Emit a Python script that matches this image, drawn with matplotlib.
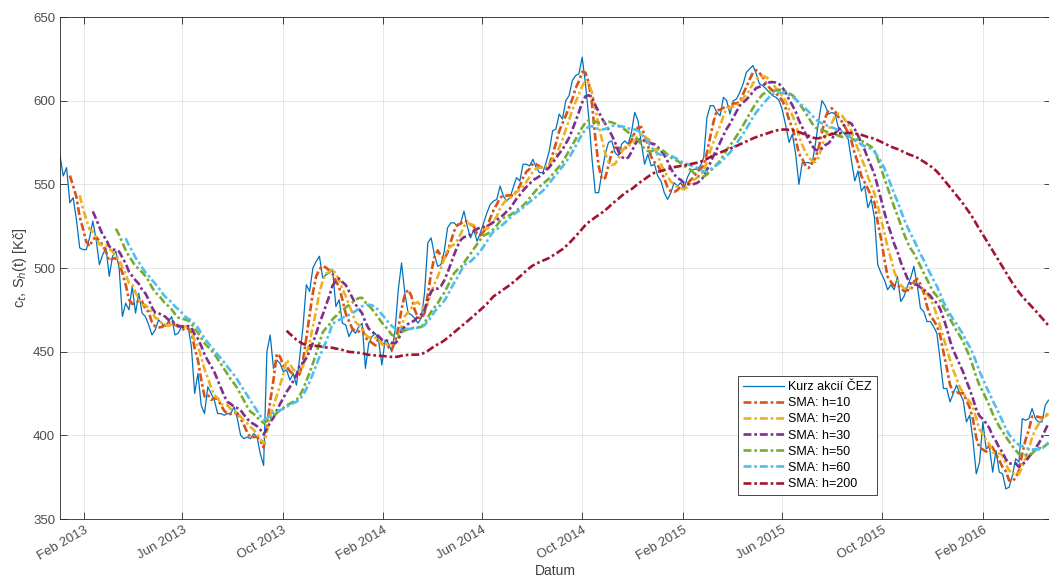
import matplotlib
matplotlib.use('Agg')
import matplotlib.pyplot as plt
import matplotlib.dates as mdates
import numpy as np
import pandas as pd

plt.rcParams['font.family'] = ['Liberation Sans', 'DejaVu Sans']

# Kurz akcii CEZ, every 4 calendar days
start_date = '2013-01-03'
step = '4D'
price = [
    567, 555, 560, 539, 542, 529, 512, 511, 511, 518,
    528, 517, 502, 508, 512, 495, 507, 510, 500, 471,
    479, 475, 489, 473, 485, 473, 471, 466, 460, 463,
    469, 467, 465, 468, 471, 460, 461, 465, 465, 465,
    453, 425, 437, 418, 413, 429, 425, 421, 413, 413,
    412, 413, 413, 417, 410, 400, 398, 399, 398, 401,
    399, 389, 382, 450, 460, 440, 445, 443, 438, 439,
    433, 437, 430, 447, 465, 490, 486, 500, 504, 507,
    494, 496, 497, 499, 477, 481, 467, 466, 459, 463,
    461, 465, 467, 440, 455, 459, 461, 457, 442, 457,
    455, 450, 462, 487, 503, 485, 473, 472, 470, 467,
    470, 485, 515, 518, 508, 501, 502, 510, 524, 527,
    527, 525, 527, 534, 525, 518, 523, 516, 521, 527,
    533, 538, 540, 541, 549, 543, 540, 542, 548, 554,
    552, 562, 562, 561, 565, 560, 557, 557, 563, 570,
    582, 583, 592, 589, 600, 603, 612, 615, 616, 626,
    610, 590, 565, 545, 545, 557, 568, 575, 576, 569,
    567, 574, 576, 574, 581, 593, 588, 575, 562, 568,
    561, 562, 555, 552, 545, 541, 545, 551, 549, 551,
    547, 554, 558, 559, 559, 561, 566, 590, 597, 597,
    593, 591, 602, 600, 592, 600, 601, 605, 610, 617,
    619, 621, 616, 610, 609, 607, 605, 603, 602, 600,
    594, 585, 575, 580, 568, 550, 563, 563, 563, 562,
    574, 588, 600, 597, 592, 593, 592, 584, 582, 580,
    577, 564, 552, 558, 546, 549, 536, 541, 530, 502,
    497, 493, 487, 490, 487, 495, 480, 483, 489, 494,
    501, 490, 476, 474, 468, 468, 465, 461, 445, 428,
    428, 420, 425, 430, 425, 421, 408, 412, 397, 377,
    384, 408, 392, 393, 378, 391, 378, 377, 368, 369,
    376, 386, 384, 410, 409, 410, 416, 410, 408, 408,
    418, 421,
]

# SMA window lengths (trading days)
sma_h = [10, 20, 30, 50, 60, 200]
sma_colors = ['#D95319', '#EDB120', '#7E2F8E', '#77AC30', '#4DBEEE', '#A2142F']
price_color = '#0072BD'

dates = pd.date_range(start_date, periods=len(price), freq=step)
s = pd.Series(price, index=dates, dtype=float)

fig = plt.figure(figsize=(10.49, 5.79), dpi=100)
ax = fig.add_axes([60 / 1049, 60 / 579, 991 / 1049, 502 / 579])

ax.plot(dates, s.values, color=price_color, lw=0.9, label='Kurz akcií ČEZ')

for h, c in zip(sma_h, sma_colors):
    win_days = int(round(h * 7 / 5))
    n_min = int(np.ceil(win_days / 4))
    sma = s.rolling(f'{win_days}D', min_periods=n_min).mean()
    ax.plot(dates, sma.values, color=c, lw=1.9, dashes=(3, 1.1, 1, 1.1),
            label=f'SMA: h={h}')

ax.set_xlim(dates[0], dates[0] + pd.Timedelta(days=1207))
ax.set_ylim(350, 650)
ax.set_yticks(np.arange(350, 651, 50))

ax.xaxis.set_major_locator(mdates.MonthLocator(bymonth=[2, 6, 10]))
ax.xaxis.set_major_formatter(mdates.DateFormatter('%b %Y'))
for lab in ax.get_xticklabels():
    lab.set_rotation(30)
    lab.set_ha('right')
    lab.set_rotation_mode('anchor')

ax.tick_params(direction='in', length=5, width=0.6, colors='#262626',
               labelsize=9.5, top=True, right=True, labelcolor='#4d4d4d')
ax.grid(True, color='#262626', alpha=0.13, lw=0.6)
for sp in ax.spines.values():
    sp.set_color('#262626')
    sp.set_linewidth(0.6)

ax.set_xlabel('Datum', fontsize=10, color='#404040', labelpad=1)
ax.set_ylabel('c$_t$, S$_h$(t) [Kč]', fontsize=10.5, color='#404040', labelpad=3)

leg = ax.legend(loc='lower left', bbox_to_anchor=(0.684, 0.048), fontsize=9,
                fancybox=False, edgecolor='#262626', framealpha=1,
                handlelength=3.3, borderpad=0.4, labelspacing=0.33,
                handletextpad=0.35, borderaxespad=0)
leg.get_frame().set_linewidth(0.6)

fig.savefig('out.png', dpi=100)
